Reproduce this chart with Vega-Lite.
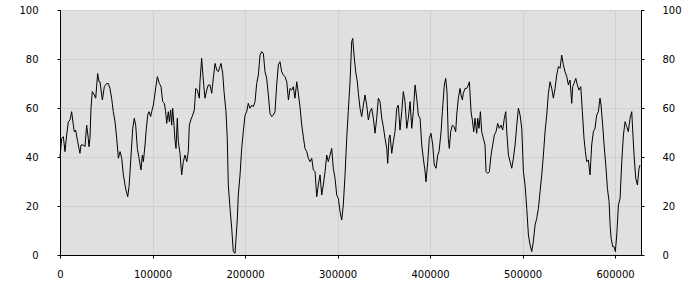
{
  "$schema": "https://vega.github.io/schema/vega-lite/v6.json",
  "width": 581,
  "height": 245,
  "autosize": "none",
  "padding": {"left": 60, "top": 10, "right": 59, "bottom": 45},
  "background": "white",
  "config": {
    "view": {"stroke": "black", "strokeWidth": 1, "fill": "#e0e0e0"},
    "axis": {
      "domainColor": "black",
      "tickColor": "black",
      "tickSize": 3,
      "labelColor": "black",
      "labelFont": "DejaVu Sans",
      "labelFontSize": 10,
      "gridColor": "#d0d0d0",
      "gridOpacity": 1,
      "title": null
    }
  },
  "data": {"values": [
    {"x":0,"y":40},{"x":1800,"y":47.6},{"x":3600,"y":48.3},{"x":5400,"y":42.2},{"x":7200,"y":49},{"x":9000,"y":54.4},{"x":10800,"y":55.1},{"x":12600,"y":58.5},{"x":14400,"y":53},{"x":15500,"y":50.3},{"x":16900,"y":51},{"x":19100,"y":46.3},{"x":20500,"y":43.5},{"x":21600,"y":41.5},{"x":22700,"y":44.9},{"x":25200,"y":44.9},{"x":27000,"y":44.2},{"x":28800,"y":53},{"x":30600,"y":47.6},{"x":31300,"y":44.2},{"x":32400,"y":47.6},{"x":33500,"y":59.9},{"x":34900,"y":66.7},{"x":37100,"y":65.3},{"x":38600,"y":64},{"x":40700,"y":74.1},{"x":42200,"y":70.7},{"x":43200,"y":70.7},{"x":45800,"y":63.3},{"x":47900,"y":68.7},{"x":50400,"y":70},{"x":52200,"y":70},{"x":54000,"y":68},{"x":55800,"y":64},{"x":57600,"y":58.5},{"x":59500,"y":54.4},{"x":61300,"y":47.6},{"x":63100,"y":39.5},{"x":64900,"y":42.2},{"x":66700,"y":39.5},{"x":68500,"y":32.7},{"x":70300,"y":28.6},{"x":71300,"y":26.5},{"x":73200,"y":23.8},{"x":74600,"y":27.9},{"x":75700,"y":34},{"x":77500,"y":44.9},{"x":78600,"y":51.7},{"x":80300,"y":55.8},{"x":81800,"y":53},{"x":83600,"y":43.5},{"x":85400,"y":39.5},{"x":87600,"y":34.7},{"x":89000,"y":40.8},{"x":90100,"y":38.1},{"x":91900,"y":44.9},{"x":93000,"y":50.3},{"x":94800,"y":57.1},{"x":96200,"y":58.5},{"x":98000,"y":56.5},{"x":99100,"y":58.5},{"x":100900,"y":61.2},{"x":102700,"y":66},
    {"x":105200,"y":72.8},{"x":107400,"y":70},{"x":109200,"y":68.7},{"x":111000,"y":62.6},{"x":112800,"y":61.9},{"x":114200,"y":58.5},{"x":115300,"y":53.7},{"x":117100,"y":58.5},{"x":118200,"y":54.4},{"x":119600,"y":59.2},{"x":120700,"y":53},{"x":121800,"y":59.9},{"x":123200,"y":53},{"x":124300,"y":46.9},{"x":125400,"y":43.5},{"x":126800,"y":55.8},{"x":127900,"y":46.3},{"x":129700,"y":41.5},{"x":131500,"y":32.7},{"x":133300,"y":38.1},{"x":135100,"y":40.8},{"x":137000,"y":38.1},{"x":138700,"y":42.2},{"x":139800,"y":53},{"x":141300,"y":55.1},{"x":143400,"y":57.1},{"x":145200,"y":59.2},{"x":146700,"y":68},{"x":148400,"y":67.3},{"x":150600,"y":64},{"x":151300,"y":70.7},{"x":153100,"y":80.3},{"x":154900,"y":71.4},{"x":156700,"y":64},{"x":158600,"y":67.3},{"x":160300,"y":69.4},{"x":162100,"y":69.4},{"x":164000,"y":66},{"x":165700,"y":72.1},{"x":167600,"y":78.2},{"x":169400,"y":75.5},{"x":171100,"y":74.8},{"x":172900,"y":76.9},{"x":174000,"y":78.2},{"x":175900,"y":74.1},{"x":177300,"y":66.7},{"x":179400,"y":58.5},{"x":180800,"y":47.6},{"x":181900,"y":28.6},{"x":183800,"y":19},{"x":185600,"y":10.9},{"x":187300,"y":1.4},{"x":189200,"y":0.7},{"x":190300,"y":6.8},{"x":191700,"y":15},{"x":192700,"y":24.5},{"x":194600,"y":32.7},{"x":196400,"y":43.5},{"x":198100,"y":50.3},{"x":200000,"y":57.1},{"x":201800,"y":58.5},{"x":203500,"y":61.9},
    {"x":205400,"y":59.9},{"x":207200,"y":61.2},{"x":209000,"y":60.5},{"x":210800,"y":62.6},{"x":212600,"y":70},{"x":214400,"y":73.5},{"x":216200,"y":81.6},{"x":218000,"y":83},{"x":219800,"y":82.3},{"x":221600,"y":74.8},{"x":223400,"y":72.1},{"x":225200,"y":65.3},{"x":227000,"y":57.8},{"x":228800,"y":56.5},{"x":230600,"y":57.1},{"x":232400,"y":58.5},{"x":234200,"y":69.4},{"x":236000,"y":77.6},{"x":237800,"y":78.9},{"x":239600,"y":74.8},{"x":241400,"y":73.5},{"x":243200,"y":72.8},{"x":245100,"y":70.7},{"x":246900,"y":63.3},{"x":248600,"y":68},{"x":250500,"y":67.3},{"x":252200,"y":68.7},{"x":254000,"y":64},{"x":255900,"y":70.7},{"x":257600,"y":66},{"x":259400,"y":60.5},{"x":261300,"y":53},{"x":263000,"y":48.3},{"x":264800,"y":43.5},{"x":266700,"y":42.2},{"x":268400,"y":39.5},{"x":270300,"y":38.1},{"x":272100,"y":39.5},{"x":273800,"y":34.7},{"x":275700,"y":34},{"x":277500,"y":23.8},{"x":279200,"y":28.6},{"x":281100,"y":32.7},{"x":282900,"y":24.5},{"x":284600,"y":28.6},{"x":286500,"y":34},{"x":288300,"y":40.8},{"x":290000,"y":38.1},{"x":291900,"y":40.8},{"x":293700,"y":43.5},{"x":295400,"y":35.4},{"x":297300,"y":31.3},{"x":299100,"y":24.5},{"x":300800,"y":23.1},{"x":302700,"y":17.7},{"x":304500,"y":14.3},{"x":306200,"y":20.4},
    {"x":308100,"y":32.7},{"x":309900,"y":47.6},{"x":311600,"y":58.5},{"x":313500,"y":70.7},{"x":315300,"y":87.1},{"x":316400,"y":88.4},{"x":317800,"y":81.6},{"x":319600,"y":74.8},{"x":321400,"y":70.7},{"x":322500,"y":66},{"x":324300,"y":59.9},{"x":326100,"y":56.5},{"x":327900,"y":61.2},{"x":329700,"y":65.3},{"x":331500,"y":61.2},{"x":333300,"y":55.1},{"x":335100,"y":58.5},{"x":336900,"y":59.9},{"x":338700,"y":55.8},{"x":340500,"y":49.7},{"x":342300,"y":55.8},{"x":344100,"y":64},{"x":345900,"y":62.6},{"x":347800,"y":55.8},{"x":349500,"y":52.4},{"x":351300,"y":47.6},{"x":353200,"y":43.5},{"x":354200,"y":37.4},{"x":355600,"y":47.6},{"x":356700,"y":49},{"x":358600,"y":41.5},{"x":360300,"y":46.3},{"x":362100,"y":50.3},{"x":364000,"y":59.9},{"x":365700,"y":61.2},{"x":367500,"y":51},{"x":369400,"y":58.5},{"x":371100,"y":66.7},{"x":372900,"y":62.6},{"x":374800,"y":51.7},{"x":376500,"y":55.8},{"x":378400,"y":62.6},{"x":380200,"y":51.7},{"x":381900,"y":58.5},{"x":383800,"y":69.4},{"x":385600,"y":64},{"x":387300,"y":57.1},{"x":389200,"y":55.8},{"x":391000,"y":44.9},{"x":392700,"y":39.5},{"x":394600,"y":34},{"x":395600,"y":29.9},{"x":397500,"y":38.1},{"x":399200,"y":47.6},{"x":401000,"y":49.7},{"x":402900,"y":44.9},{"x":404600,"y":36.7},{"x":406500,"y":35.4},{"x":408300,"y":40.8},
    {"x":409700,"y":42.2},{"x":411900,"y":50.3},{"x":413300,"y":58.5},{"x":415400,"y":69.4},{"x":416900,"y":72.1},{"x":418300,"y":66.7},{"x":419700,"y":47.6},{"x":420800,"y":43.5},{"x":422300,"y":50.3},{"x":424100,"y":53},{"x":425900,"y":52.4},{"x":427700,"y":50.3},{"x":428800,"y":57.1},{"x":430600,"y":64},{"x":432400,"y":68},{"x":433500,"y":65.3},{"x":434900,"y":63.3},{"x":436000,"y":66},{"x":437800,"y":68},{"x":439600,"y":68},{"x":441400,"y":69.4},{"x":442500,"y":70.7},{"x":444300,"y":58.5},{"x":445700,"y":55.1},{"x":447200,"y":50.3},{"x":448600,"y":55.8},{"x":450400,"y":49.7},{"x":451500,"y":55.8},{"x":452900,"y":51.7},{"x":454400,"y":58.5},{"x":455800,"y":50.3},{"x":457600,"y":47.6},{"x":459400,"y":44.9},{"x":460500,"y":34},{"x":462300,"y":33.3},{"x":464100,"y":34},{"x":465900,"y":40.8},{"x":467700,"y":44.9},{"x":469500,"y":49},{"x":471300,"y":50.3},{"x":473100,"y":53.7},{"x":474900,"y":51.7},{"x":476700,"y":53},{"x":478500,"y":51},{"x":480300,"y":55.8},{"x":481800,"y":58.5},{"x":482900,"y":50.3},{"x":484700,"y":40.8},{"x":486500,"y":38.1},{"x":488300,"y":35.4},{"x":490100,"y":39.5},{"x":491900,"y":44.9},{"x":493700,"y":53},{"x":495500,"y":59.9},{"x":497300,"y":57.1},{"x":499100,"y":51.7},{"x":500900,"y":34},{"x":502700,"y":28.6},{"x":504500,"y":19},{"x":506300,"y":8.2},{"x":508100,"y":4.1},{"x":509900,"y":1.4},{"x":511600,"y":5.4},
    {"x":513500,"y":12.2},{"x":515300,"y":15},{"x":517100,"y":19},{"x":518900,"y":25.9},{"x":520700,"y":32.7},{"x":522500,"y":40.8},{"x":524300,"y":50.3},{"x":526100,"y":57.1},{"x":527900,"y":66},{"x":529700,"y":70.7},{"x":531500,"y":68},{"x":533300,"y":64},{"x":535100,"y":68},{"x":536900,"y":73.5},{"x":538700,"y":76.9},{"x":540500,"y":76.2},{"x":542300,"y":81.6},{"x":544100,"y":77.6},{"x":545900,"y":74.8},{"x":547800,"y":72.8},{"x":549500,"y":69.4},{"x":551300,"y":71.4},{"x":553100,"y":61.9},{"x":554200,"y":68.7},{"x":555600,"y":70},{"x":557500,"y":72.1},{"x":559200,"y":69.4},{"x":561000,"y":67.3},{"x":562900,"y":68.7},{"x":564600,"y":58.5},{"x":566400,"y":47.6},{"x":567900,"y":42.2},{"x":569300,"y":38.1},{"x":571100,"y":38.8},{"x":572900,"y":32.7},{"x":574700,"y":44.9},{"x":576500,"y":50.3},{"x":578300,"y":51.7},{"x":580100,"y":57.1},{"x":581900,"y":58.5},{"x":583700,"y":64},{"x":584800,"y":61.2},{"x":586600,"y":53},{"x":588100,"y":44.9},{"x":590200,"y":35.4},{"x":591700,"y":27.2},{"x":593500,"y":21.8},{"x":594600,"y":12.2},{"x":595700,"y":6.8},{"x":597500,"y":3.4},{"x":598900,"y":3.4},{"x":600300,"y":1.4},{"x":601800,"y":8.2},{"x":603600,"y":20.4},{"x":605400,"y":23.1},{"x":607200,"y":38.1},{"x":609000,"y":49},{"x":610800,"y":54.4},{"x":612600,"y":52.4},{"x":614300,"y":50.3},{"x":616200,"y":55.8},{"x":618000,"y":58.5},{"x":619100,"y":50.3},{"x":620500,"y":40.8},{"x":622300,"y":31.3},{"x":624100,"y":28.6},{"x":625900,"y":35.4},{"x":627000,"y":36.7}
  ]},
  "layer": [
    {
      "mark": {"type": "line", "color": "black", "strokeWidth": 1, "interpolate": "linear"},
      "encoding": {
        "x": {"field": "x", "type": "quantitative",
              "scale": {"domain": [0, 628000], "nice": false, "zero": false},
              "axis": {"values": [0, 100000, 200000, 300000, 400000, 500000, 600000], "format": "d", "grid": true, "labelPadding": 11, "labelFlush": false}},
        "y": {"field": "y", "type": "quantitative",
              "scale": {"domain": [0, 100], "nice": false},
              "axis": {"orient": "left", "values": [0, 20, 40, 60, 80, 100], "grid": true, "labelPadding": 19}}
      }
    },
    {
      "mark": {"type": "line", "opacity": 0},
      "encoding": {
        "x": {"field": "x", "type": "quantitative", "scale": {"domain": [0, 628000], "nice": false, "zero": false}},
        "y": {"field": "y", "type": "quantitative",
              "scale": {"domain": [0, 100], "nice": false},
              "axis": {"orient": "right", "values": [0, 20, 40, 60, 80, 100], "grid": false, "labelPadding": 18}}
      }
    }
  ],
  "resolve": {"axis": {"y": "independent"}}
}
